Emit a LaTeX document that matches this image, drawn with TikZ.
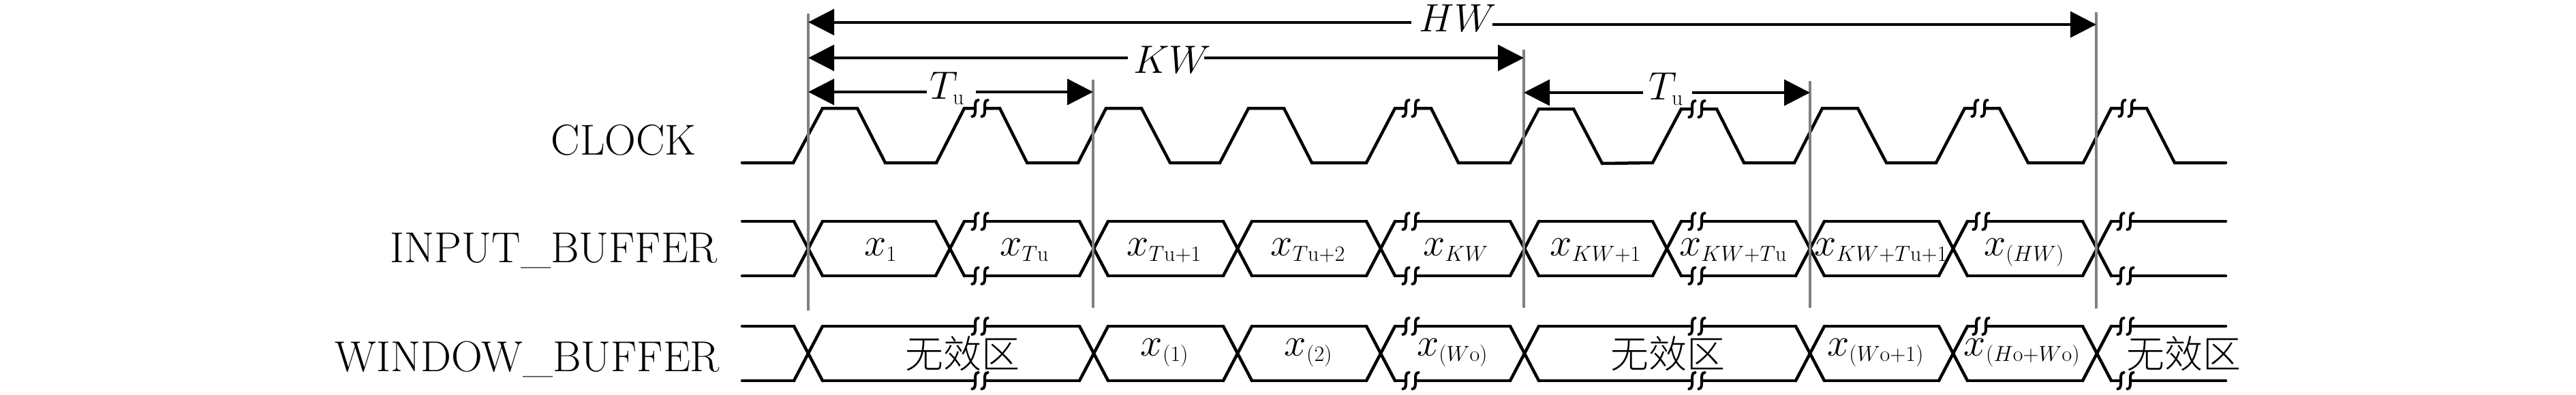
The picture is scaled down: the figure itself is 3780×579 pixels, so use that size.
\RequirePackage{fix-cm}
\documentclass[tikz,border=0pt]{standalone}
\usepackage[no-math]{fontspec}
\newfontfamily\cjk{Noto Sans CJK SC Light}
\usetikzlibrary{arrows.meta}
\DeclareMathSizes{58}{58}{32}{24}
\tikzset{
  wave/.style={line width=4.5pt,line join=miter,line cap=round,black},
  guide/.style={line width=4pt,draw={rgb,255:red,128;green,128;blue,128}},
  dimarrow/.style={line width=4pt,-{Triangle[length=38pt,width=38pt]}},
  brkcurve/.style={line width=4pt,line cap=round},
  lab/.style={anchor=base,inner sep=0pt,font=\fontsize{58}{60}\selectfont},
  rowlab/.style={anchor=base,inner sep=0pt,font=\fontsize{63.5}{66}\selectfont},
  cjklab/.style={anchor=base,inner sep=0pt,font=\fontsize{56}{60}\selectfont\cjk},
}
\newcommand\brk[2]{%
  \fill[white] (#1-8,#2-5) rectangle (#1+8,#2+5);
  \foreach \dx in {-7,7}
    \draw[brkcurve] (#1+\dx-4.5,#2+12) .. controls (#1+\dx+5,#2+12) and (#1+\dx-5,#2-12) .. (#1+\dx+4.5,#2-12);
}
\newcommand\busrow[3]{%
  \foreach \a [remember=\a as \p (initially 1068)] in {#3} {
    \draw[wave] (\p+21,#1) -- (\a-21,#1);
    \draw[wave] (\p+21,#2) -- (\a-21,#2);
    \draw[wave] (\a-21,#1) -- (\a+21,#2);
    \draw[wave] (\a-21,#2) -- (\a+21,#1);
  }
  \draw[wave] (3098,#1) -- (3266,#1);
  \draw[wave] (3098,#2) -- (3266,#2);
}
\begin{document}
\begin{tikzpicture}[x=1pt,y=-1pt]
\useasboundingbox (0,0) rectangle (3780,579);
% clock
\draw[wave] (1089,239) -- (1164,239) -- (1207,159) -- (1258,159) -- (1299,239) -- (1374,239)
  -- (1415,159) -- (1467,159) -- (1507,239) -- (1582,239) -- (1623,159) -- (1675,159)
  -- (1717,239) -- (1790,239) -- (1832,159) -- (1884,159) -- (1925,239) -- (2005,239)
  -- (2047,159) -- (2100,159) -- (2140,239) -- (2216,239) -- (2258,160) -- (2309,160)
  -- (2351,240) -- (2425,239) -- (2467,160) -- (2519,160) -- (2559,239) -- (2633,239)
  -- (2674,159) -- (2726,159) -- (2768,239) -- (2841,239) -- (2883,159) -- (2934,159)
  -- (2976,239) -- (3057,239) -- (3098,159) -- (3150,159) -- (3191,239) -- (3266,239);
\brk{1438}{159}\brk{2070}{159}\brk{2490}{160}\brk{2905}{159}\brk{3121}{159}
% input bus
\busrow{325}{405}{1186,1394,1605,1816,2026,2237,2446,2656,2866,3077}
\brk{1438}{325}\brk{2070}{325}\brk{2490}{325}\brk{2907}{325}\brk{3119}{325}
\brk{1438}{405}\brk{2070}{405}\brk{2490}{405}\brk{3119}{405}
% window bus
\busrow{479}{559}{1186,1605,1816,2026,2237,2656,2866,3077}
\brk{1438}{479}\brk{2070}{479}\brk{2490}{479}\brk{2907}{479}\brk{3119}{479}
\brk{1438}{559}\brk{2070}{559}\brk{2490}{559}\brk{3119}{559}
% guides
\coordinate (g1t) at (1186,20);   \coordinate (g1b) at (1186,456);
\coordinate (g2t) at (1604,117);  \coordinate (g2b) at (1604,452);
\coordinate (g3t) at (2236,73);   \coordinate (g3b) at (2236,452);
\coordinate (g4t) at (2656,119);  \coordinate (g4b) at (2656,452);
\coordinate (g5t) at (3076,18);   \coordinate (g5b) at (3076,453);
\foreach \g in {1,...,5} \draw[guide] (g\g t) -- (g\g b);
% row labels
\node[rowlab] (clk) at (915,227) {CLOCK};
\node[rowlab] (inb) at (813,385) {INPUT\_BUFFER};
\node[rowlab] (wnb) at (774,545) {WINDOW\_BUFFER};
% dimension labels
\node[lab] (hw) at (2139,46) {$HW$};
\node[lab] (kw) at (1720,107) {$KW$};
\node[lab] (tu1) at (1390,145) {$T_{\mathrm{u}}$};
\node[lab] (tu2) at (2445,146) {$T_{\mathrm{u}}$};
% dimension arrows
\coordinate (hwA) at (1186,32.5); \coordinate (hwB) at (2071,32.5);
\coordinate (hwC) at (2190,36);   \coordinate (hwD) at (3076,36);
\coordinate (kwA) at (1186,85);   \coordinate (kwB) at (1655,85);
\coordinate (kwC) at (1767,85);   \coordinate (kwD) at (2236,85);
\coordinate (t1A) at (1186,135);  \coordinate (t1B) at (1360,135);
\coordinate (t1C) at (1432,135);  \coordinate (t1D) at (1604,135);
\coordinate (t2A) at (2236,136);  \coordinate (t2B) at (2411,136);
\coordinate (t2C) at (2483,136);  \coordinate (t2D) at (2656,136);
\draw[dimarrow] (hwB) -- (hwA);
\draw[dimarrow] (hwC) -- (hwD);
\draw[dimarrow] (kwB) -- (kwA);
\draw[dimarrow] (kwC) -- (kwD);
\draw[dimarrow] (t1B) -- (t1A);
\draw[dimarrow] (t1C) -- (t1D);
\draw[dimarrow] (t2B) -- (t2A);
\draw[dimarrow] (t2C) -- (t2D);
% input data
\node[lab] (i1) at (1292,375) {$x_1$};
\node[lab] (i2) at (1503,375) {$x_{T\mathrm{u}}$};
\node[lab] (i3) at (1708,375) {$x_{T\mathrm{u}+1}$};
\node[lab] (i4) at (1919,375) {$x_{T\mathrm{u}+2}$};
\node[lab] (i5) at (2136,375) {$x_{KW}$};
\node[lab] (i6) at (2341,375) {$x_{KW+1}$};
\node[lab] (i7) at (2543,375) {$x_{KW+T\mathrm{u}}$};
\node[lab] (i8) at (2760,375) {$x_{KW+T\mathrm{u}+1}$};
\node[lab] (i9) at (2970,375) {$x_{(HW)}$};
% window data
\node[cjklab] (w0) at (1412,540) {无效区};
\node[lab] (w1) at (1709,522) {$x_{(1)}$};
\node[lab] (w2) at (1920,522) {$x_{(2)}$};
\node[lab] (w3) at (2131,522) {$x_{(W\mathrm{o})}$};
\node[cjklab] (w4) at (2447,540) {无效区};
\node[lab] (w5) at (2752,522) {$x_{(W\mathrm{o}+1)}$};
\node[lab] (w6) at (2967,522) {$x_{(H\mathrm{o}+W\mathrm{o})}$};
\node[cjklab] (w7) at (3204,540) {无效区};
\end{tikzpicture}
\end{document}
